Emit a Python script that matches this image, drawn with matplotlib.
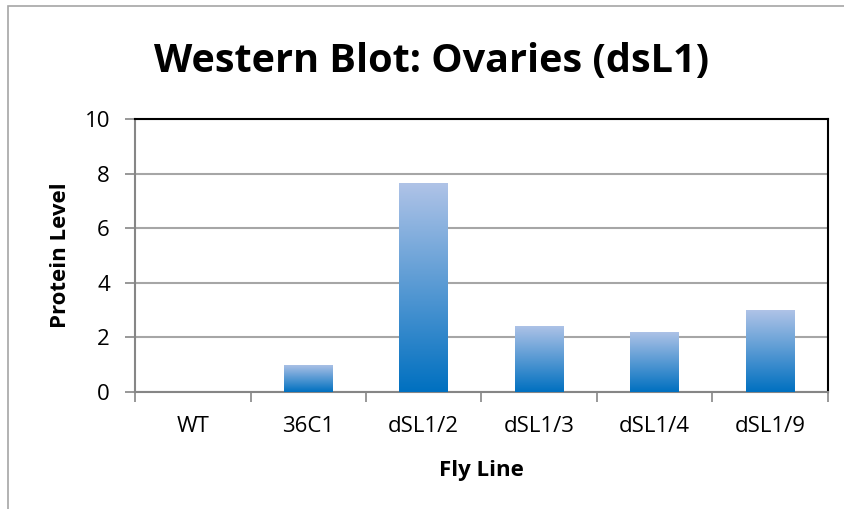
import numpy as np
import matplotlib
matplotlib.use('Agg')
import matplotlib.pyplot as plt
from matplotlib.colors import LinearSegmentedColormap
from matplotlib.patches import Rectangle

categories = ['WT', '36C1', 'dSL1/2', 'dSL1/3', 'dSL1/4', 'dSL1/9']
protein_level = [0.0, 1.0, 7.65, 2.42, 2.2, 3.0]
y_ticks = [0, 2, 4, 6, 8, 10]

plt.rcParams['font.family'] = ['Open Sans', 'DejaVu Sans']

fig = plt.figure(figsize=(8.44, 5.09), dpi=100)
ax = fig.add_axes([135 / 844, 1 - 392 / 509, 693 / 844, 273 / 509])

# outer chart border (extends past the right/bottom edge like the reference)
fig.patches.append(Rectangle((8 / 844, -0.1), 1.2, 1 - 6 / 509 + 0.1,
                             transform=fig.transFigure, fill=False,
                             edgecolor='#a6a6a6', linewidth=1.2))

x = np.arange(len(categories))
bars = ax.bar(x, protein_level, width=0.42, color='none', zorder=3)

cmap = LinearSegmentedColormap.from_list('blu', ['#0070c0', '#afc3e7'])
grad = np.linspace(0, 1, 256).reshape(-1, 1)
for b in bars:
    h = b.get_height()
    if h <= 0:
        continue
    im = ax.imshow(grad, cmap=cmap, origin='lower', aspect='auto',
                   extent=[b.get_x(), b.get_x() + b.get_width(), 0, h], zorder=3)
    im.set_clip_path(b)

ax.set_xlim(-0.5, len(categories) - 0.5)
ax.set_ylim(0, 10)
ax.set_yticks(y_ticks)
ax.set_xticks(x)
ax.set_xticklabels(categories)
ax.set_xticks(np.arange(-0.5, len(categories)), minor=True)
ax.tick_params(axis='x', which='major', length=0, pad=17, labelsize=16)
ax.tick_params(axis='x', which='minor', length=7, color='#868686', width=1.2)
ax.tick_params(axis='y', length=7, color='#868686', width=1.2, labelsize=16, pad=11)

ax.grid(axis='y', color='#a6a6a6', linewidth=1.5, zorder=1)
ax.set_axisbelow(True)

for side in ['left', 'bottom']:
    ax.spines[side].set_color('#868686')
    ax.spines[side].set_linewidth(1.5)
for side in ['top', 'right']:
    ax.spines[side].set_color('black')
    ax.spines[side].set_linewidth(1.5)

ax.set_xlabel('Fly Line', fontsize=16, fontweight='bold', labelpad=17)
ax.set_ylabel('Protein Level', fontsize=16, fontweight='bold', labelpad=10)
fig.text(432 / 844, 1 - 61 / 509, 'Western Blot: Ovaries (dsL1)', fontsize=28.5,
         fontweight='bold', ha='center', va='center')

plt.savefig('out.png', dpi=100)
plt.close()
